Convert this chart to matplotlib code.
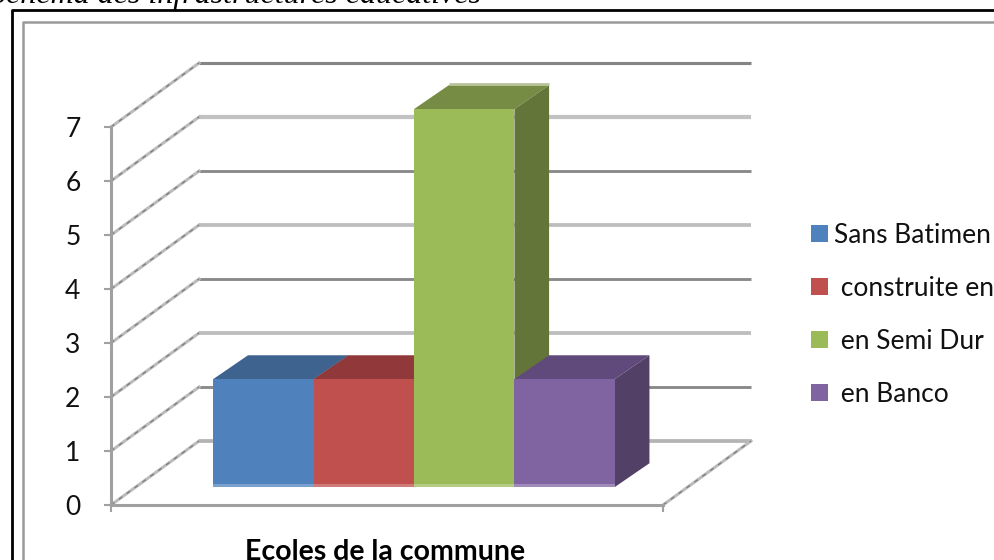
import matplotlib
matplotlib.use("Agg")
import matplotlib.pyplot as plt
from matplotlib.lines import Line2D
from matplotlib.patches import Patch, Polygon

labels = ["Sans Batimen", " construite en", " en Semi Dur", " en Banco"]
values = [2, 2, 7, 2]
front_colors = ["#4f81bd", "#c0504d", "#9bbb59", "#8064a2"]
top_colors = ["#3f638f", "#91393a", "#768c45", "#604a7b"]
side_colors = ["#385d8a", "#7f3331", "#647539", "#524066"]
yticks = [0, 1, 2, 3, 4, 5, 6, 7]
wall_colors = ["#b4b4b4", "#8a8a8a", "#bdbdbd", "#8a8a8a", "#bdbdbd", "#8a8a8a", "#c2c2c2", "#858585"]
wall_widths = [3.4, 2.6, 3.4, 2.6, 3.4, 2.6, 3.8, 2.8]
xaxis_title = "Ecoles de la commune"
caption = "Schéma des infrastructures éducatives"

W, H = 994, 560
plt.rcParams["font.family"] = ["Lato", "DejaVu Sans"]

fig = plt.figure(figsize=(W / 100, H / 100), dpi=100)
ax = fig.add_axes([111 / W, (H - 505) / H, 552 / W, 378 / H])
ax.set_xlim(0, 5.5)
ax.set_ylim(0, 7)
ax.patch.set_alpha(0)

# depth of the fake 3d box, in data units
wall_dx, wall_dy = 0.877, 1.185
bar_dx, bar_dy = 0.27, 0.333
deep_dx, deep_dy = 0.345, 0.44

for v, c, lw in zip(yticks, wall_colors, wall_widths):
    ax.plot([wall_dx, 5.5 + wall_dx], [v + wall_dy, v + wall_dy], color=c, lw=lw * 0.8,
            clip_on=False, solid_capstyle="butt", zorder=1)
    ax.plot([0, wall_dx], [v, v + wall_dy], color="#bcbcbc", lw=2.2, clip_on=False, zorder=1)
    ax.plot([0, wall_dx], [v, v + wall_dy], color="#808080", lw=1, ls=(0, (3, 4)), clip_on=False, zorder=1)
ax.plot([5.5, 5.5 + wall_dx], [0, wall_dy], color="#bcbcbc", lw=2.2, clip_on=False, zorder=1)
ax.plot([5.5, 5.5 + wall_dx], [0, wall_dy], color="#808080", lw=1, ls=(0, (3, 4)), clip_on=False, zorder=1)

for i, v in enumerate(values):
    x0 = 0.75 + bar_dx + i
    x1 = x0 + 1
    y0 = bar_dy
    y1 = bar_dy + v
    z = 3 + i
    ax.add_patch(Polygon([(x0, y1), (x1, y1), (x1 + deep_dx, y1 + deep_dy), (x0 + deep_dx, y1 + deep_dy)],
                         color=top_colors[i], lw=0, clip_on=False, zorder=z))
    ax.add_patch(Polygon([(x1, y0), (x1 + deep_dx, y0 + deep_dy), (x1 + deep_dx, y1 + deep_dy), (x1, y1)],
                         color=side_colors[i], lw=0, clip_on=False, zorder=z))
    ax.bar(x0, v, width=1, bottom=y0, align="edge", color=front_colors[i], lw=0, zorder=z, clip_on=False)
    # pale strip along the foot of each bar
    ax.bar(x0, 0.05, width=1, bottom=y0, align="edge", color="white", alpha=0.25, lw=0, zorder=z, clip_on=False)
    if v == max(values):
        # the tall bar has a pale rim on the back edge of its top
        ax.plot([x0 + deep_dx, x1 + deep_dx], [y1 + deep_dy + 0.02, y1 + deep_dy + 0.02], color="#b8c397",
                lw=2, clip_on=False, solid_capstyle="butt", zorder=z)

for s in ["top", "right"]:
    ax.spines[s].set_visible(False)
for s in ["left", "bottom"]:
    ax.spines[s].set_color("#a0a0a0")
    ax.spines[s].set_linewidth(2.2)
    ax.spines[s].set_zorder(2)
ax.set_yticks(yticks)
ax.set_xticks([0, 5.5])
ax.set_xticklabels([])
ax.tick_params(axis="y", length=5, width=1.5, color="#a0a0a0", labelsize=19, pad=17, labelcolor="#111111")
ax.tick_params(axis="x", length=5, width=1.5, color="#a0a0a0")

handles = [Patch(color=c, lw=0) for c in front_colors]
ax.legend(handles, labels, loc="upper left", bbox_to_anchor=(811 / W, (H - 223) / H),
          bbox_transform=fig.transFigure, frameon=False, fontsize=19, borderpad=0, borderaxespad=0,
          handlelength=0.64, handleheight=0.64, handletextpad=0.23, labelspacing=1.06, labelcolor="#111111")

fig.text(385 / W, (H - 560) / H, xaxis_title, ha="center", va="baseline", fontsize=20.5, fontweight="bold", color="black")
fig.text(481 / W, (H - 3) / H, caption, ha="right", va="baseline", fontsize=23, style="italic",
         family="Liberation Serif", color="black")

# page frame and chart frame
fig.add_artist(Line2D([12 / W, 12 / W, 1], [0, (H - 10) / H, (H - 10) / H], color="black", lw=2))
fig.add_artist(Line2D([23 / W, 23 / W, 1], [0, (H - 21.5) / H, (H - 21.5) / H], color="#9a9a9a", lw=1.8))

fig.savefig("out.png", dpi=100)
